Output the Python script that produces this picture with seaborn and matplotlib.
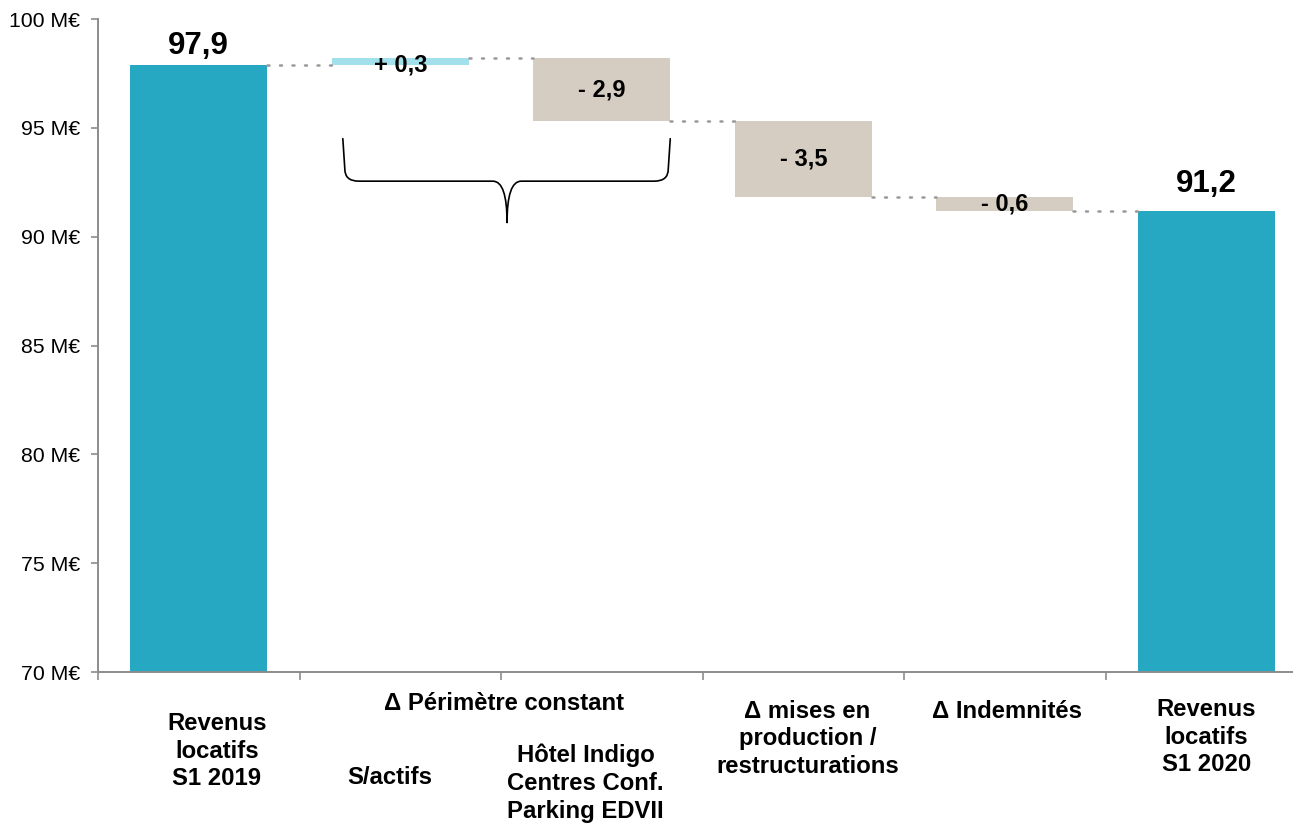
import matplotlib
matplotlib.use("Agg")
import matplotlib.pyplot as plt
from matplotlib.path import Path
from matplotlib.patches import PathPatch
from matplotlib.transforms import blended_transform_factory
import pandas as pd
import seaborn as sns

# ---- data -------------------------------------------------------------
steps = ["S1 2019", "S/actifs", "Hôtel Indigo", "Production", "Indemnités", "S1 2020"]
start_total = 97.9
deltas = [0.3, -2.9, -3.5, -0.6]
end_total = 91.2
value_labels = ["97,9", "+ 0,3", "- 2,9", "- 3,5", "- 0,6", "91,2"]
yticks = [70, 75, 80, 85, 90, 95, 100]
ytick_labels = [f"{v} M€" for v in yticks]

# ---- colours ----------------------------------------------------------
TEAL = "#27A8C2"
LIGHT = "#A2E1EC"
BEIGE = "#D5CDC1"
GREY = "#8C8C8C"
DOTS = "#999999"

# running levels for the waterfall
levels = [start_total]
for d in deltas:
    levels.append(round(levels[-1] + d, 1))

bottoms = [0] + levels[:-1] + [0]
heights = [start_total] + deltas + [end_total]
colors = [TEAL] + [LIGHT if d > 0 else BEIGE for d in deltas] + [TEAL]

df = pd.DataFrame({"step": steps, "height": heights})

sns.set_theme(style="white")
plt.rcParams["font.family"] = ["Liberation Sans", "DejaVu Sans"]
plt.rcParams["text.color"] = "black"
plt.rcParams["ytick.labelcolor"] = "black"

fig = plt.figure(figsize=(12.93, 8.25), dpi=100)
ax = fig.add_axes([98 / 1293, 153 / 825, 1209 / 1293, 653 / 825])

BAR_W = 0.68
sns.barplot(data=df, x="step", y="height", order=steps, bottom=bottoms,
            width=BAR_W, errorbar=None, ax=ax, linewidth=0, saturation=1,
            color=TEAL)
for patch, c in zip(ax.patches, colors):
    patch.set_facecolor(c)
    patch.set_edgecolor("none")

# dotted connectors between consecutive bars
for i, lvl in enumerate(levels):
    ax.plot([i + BAR_W / 2, i + 1 - BAR_W / 2], [lvl, lvl], color=DOTS,
            linestyle=(0, (0.8, 4.2)), linewidth=1.8, dash_capstyle="round")

# value labels
ax.annotate(value_labels[0], (0, start_total), xytext=(0, 3), textcoords="offset points",
            ha="center", va="bottom", fontsize=22.5, fontweight="bold")
ax.annotate(value_labels[-1], (5, end_total), xytext=(0, 8), textcoords="offset points",
            ha="center", va="bottom", fontsize=22.5, fontweight="bold")
ax.text(1, levels[0], value_labels[1], ha="center", va="center",
        fontsize=17, fontweight="bold")
for i in range(2, 5):
    mid = bottoms[i] + heights[i] / 2
    ax.text(i, mid, value_labels[i], ha="center", va="center",
            fontsize=17, fontweight="bold")

# brace grouping the two like-for-like steps
x0, x1, xm = 0.715, 2.34, 1.53
y_top, y_mid, y_tip = 94.5, 92.55, 90.65
rx, ry, cx = 0.08, 0.55, 0.07
verts = [
    (x0, y_top), (x0 + 0.01, y_mid + ry), (x0 + 0.01, y_mid), (x0 + rx, y_mid),
    (xm - cx, y_mid), (xm, y_mid), (xm, y_tip),
    (xm, y_mid), (xm + cx, y_mid),
    (x1 - rx, y_mid), (x1 - 0.01, y_mid), (x1 - 0.01, y_mid + ry), (x1, y_top),
]
codes = [
    Path.MOVETO, Path.LINETO, Path.CURVE3, Path.CURVE3,
    Path.LINETO, Path.CURVE3, Path.CURVE3,
    Path.CURVE3, Path.CURVE3,
    Path.LINETO, Path.CURVE3, Path.CURVE3, Path.LINETO,
]
ax.add_patch(PathPatch(Path(verts, codes), facecolor="none", edgecolor="black",
                       linewidth=1.2, capstyle="round", joinstyle="round"))

# axes styling
ax.set_ylim(70, 100)
ax.set_yticks(yticks)
ax.set_yticklabels(ytick_labels, fontsize=15.3)
ax.set_xticks([i - 0.5 for i in range(len(steps) + 1)])
ax.set_xticklabels([])
ax.set_xlim(-0.5, len(steps) - 0.5)
ax.set_xlabel("")
ax.set_ylabel("")
for side in ("top", "right"):
    ax.spines[side].set_visible(False)
for side in ("left", "bottom"):
    ax.spines[side].set_color(GREY)
    ax.spines[side].set_linewidth(1.4)
ax.tick_params(axis="y", direction="out", length=5, width=1.2, color=GREY, pad=8,
               left=True, labelcolor="black")
ax.tick_params(axis="x", direction="out", length=6, width=1.2, color=GREY, bottom=True)

# category labels below the axis
tr = blended_transform_factory(ax.transData, fig.transFigure)
cat_texts = [
    (0.09, 751, "Revenus\nlocatifs\nS1 2019"),
    (1.515, 703, "Δ Périmètre constant"),
    (0.95, 778, "S/actifs"),
    (1.92, 783, "Hôtel Indigo\nCentres Conf.\nParking EDVII"),
    (3.02, 739, "Δ mises en\nproduction /\nrestructurations"),
    (4.01, 712, "Δ Indemnités"),
    (5.0, 737, "Revenus\nlocatifs\nS1 2020"),
]
for x, py, s in cat_texts:
    ax.text(x, 1 - py / 825, s, transform=tr, ha="center", va="center",
            fontsize=17.2, fontweight="bold", linespacing=1.27, clip_on=False)

fig.savefig("out.png", dpi=100)
